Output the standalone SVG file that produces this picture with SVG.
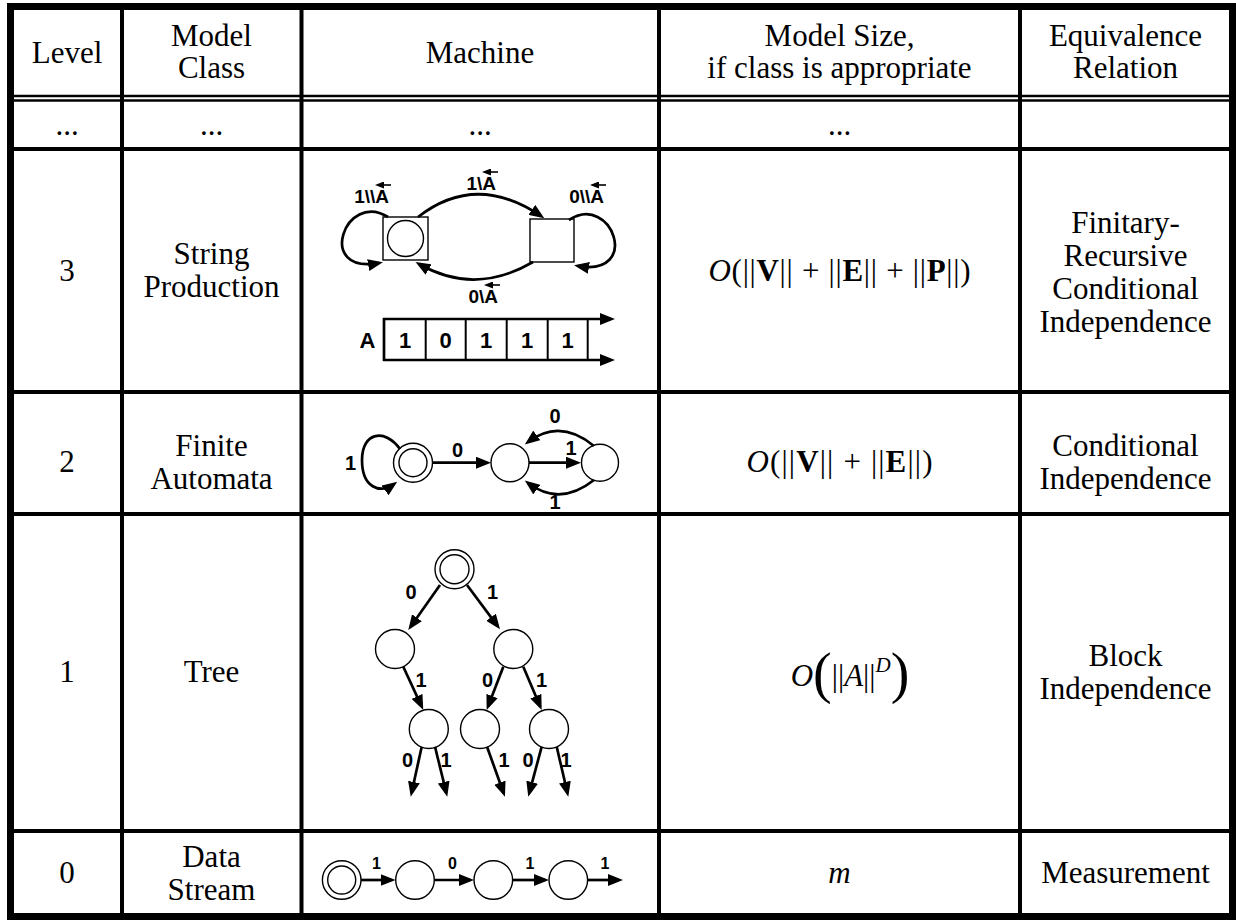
<svg xmlns="http://www.w3.org/2000/svg" width="1236" height="920" viewBox="0 0 1236 920">
<style>
.t{font-family:"Liberation Serif","Times New Roman",serif;font-size:31px;text-anchor:middle;fill:#000}
.lb{font-family:"Liberation Sans",Arial,sans-serif;font-weight:bold;font-size:20px;text-anchor:middle;fill:#000}
.la{font-family:"Liberation Sans",Arial,sans-serif;font-weight:bold;font-size:19px;text-anchor:end;fill:#000}
.ls{font-family:"Liberation Sans",Arial,sans-serif;font-weight:bold;font-size:16px;text-anchor:middle;fill:#000}
.tp{font-family:"Liberation Sans",Arial,sans-serif;font-weight:bold;font-size:22px;text-anchor:middle;fill:#000}
.g{stroke:#000;stroke-width:4}
.g2{stroke:#000;stroke-width:2.5}
.s{fill:#fff;stroke:#000;stroke-width:1.4}
.e{fill:none;stroke:#000;stroke-width:2.7;marker-end:url(#ah)}
.acc{fill:none;stroke:#000;stroke-width:1.6;marker-end:url(#sa)}
.tl{stroke:#000;stroke-width:2}
</style>
<defs>
<marker id="ah" markerUnits="userSpaceOnUse" markerWidth="15" markerHeight="12" viewBox="0 0 15 12" refX="11" refY="6" orient="auto"><path d="M0,0L15,6L0,12z" fill="#000"/></marker>
<marker id="sa" markerUnits="userSpaceOnUse" markerWidth="9" markerHeight="7" viewBox="0 0 9 7" refX="6" refY="3.5" orient="auto"><path d="M0,0L9,3.5L0,7z" fill="#000"/></marker>
</defs>
<rect width="1236" height="920" fill="#fff"/>

<g id="grid">
<rect x="10.5" y="6.5" width="1222" height="910" fill="none" stroke="#000" stroke-width="7"/>
<line class="g" x1="122" y1="10" x2="122" y2="913"/>
<line class="g" x1="301.5" y1="10" x2="301.5" y2="913"/>
<line class="g" x1="659" y1="10" x2="659" y2="913"/>
<line class="g" x1="1020" y1="10" x2="1020" y2="913"/>
<line class="g2" x1="14" y1="96" x2="1229" y2="96"/>
<line class="g2" x1="14" y1="100.5" x2="1229" y2="100.5"/>
<line class="g" x1="14" y1="149" x2="1229" y2="149"/>
<line class="g" x1="14" y1="392" x2="1229" y2="392"/>
<line class="g" x1="14" y1="514" x2="1229" y2="514"/>
<line class="g" x1="14" y1="831" x2="1229" y2="831"/>
</g>

<g id="header">
<text class="t" x="67" y="63">Level</text>
<text class="t" x="211.5" y="46">Model</text>
<text class="t" x="211.5" y="78">Class</text>
<text class="t" x="480" y="63">Machine</text>
<text class="t" x="839.5" y="46">Model Size,</text>
<text class="t" x="839.5" y="78">if class is appropriate</text>
<text class="t" x="1125.5" y="46">Equivalence</text>
<text class="t" x="1125.5" y="78">Relation</text>
</g>

<g id="row-dots">
<text class="t" x="67" y="135">...</text>
<text class="t" x="211.5" y="135">...</text>
<text class="t" x="480" y="135">...</text>
<text class="t" x="839.5" y="135">...</text>
</g>

<g id="row-3">
<text class="t" x="67" y="281">3</text>
<text class="t" x="211.5" y="263.5">String</text>
<text class="t" x="211.5" y="296.5">Production</text>
<text class="t" x="839.5" y="281" textLength="262" lengthAdjust="spacing"><tspan font-style="italic">O</tspan>(||<tspan font-weight="bold">V</tspan>|| + ||<tspan font-weight="bold">E</tspan>|| + ||<tspan font-weight="bold">P</tspan>||)</text>
<text class="t" x="1125.5" y="233">Finitary-</text>
<text class="t" x="1125.5" y="266">Recursive</text>
<text class="t" x="1125.5" y="299">Conditional</text>
<text class="t" x="1125.5" y="332">Independence</text>
</g>

<g id="row-2">
<text class="t" x="67" y="472">2</text>
<text class="t" x="211.5" y="455.5">Finite</text>
<text class="t" x="211.5" y="488.5">Automata</text>
<text class="t" x="839.5" y="472" textLength="186" lengthAdjust="spacing"><tspan font-style="italic">O</tspan>(||<tspan font-weight="bold">V</tspan>|| + ||<tspan font-weight="bold">E</tspan>||)</text>
<text class="t" x="1125.5" y="455.5">Conditional</text>
<text class="t" x="1125.5" y="488.5">Independence</text>
</g>

<g id="row-1">
<text class="t" x="67" y="682">1</text>
<text class="t" x="211.5" y="682">Tree</text>
<text class="t" x="850" y="686"><tspan font-style="italic">O</tspan><tspan font-size="56" dy="6">(</tspan><tspan dy="-6">||</tspan><tspan font-style="italic">A</tspan>||<tspan font-size="21" font-style="italic" dy="-14">D</tspan><tspan font-size="56" dy="20">)</tspan></text>
<text class="t" x="1125.5" y="665.5">Block</text>
<text class="t" x="1125.5" y="698.5">Independence</text>
</g>

<g id="row-0">
<text class="t" x="67" y="883">0</text>
<text class="t" x="211.5" y="866.5">Data</text>
<text class="t" x="211.5" y="899.5">Stream</text>
<text class="t" x="839.5" y="883" font-style="italic">m</text>
<text class="t" x="1125.5" y="883">Measurement</text>
</g>

<!-- Row 3 machine: string production -->
<g id="sp-state-start"><rect class="s" x="383" y="217" width="45" height="43"/><circle class="s" cx="405.5" cy="238.5" r="18"/></g>
<g id="sp-state-2"><rect class="s" x="530" y="219" width="44" height="43"/></g>
<g id="sp-tape">
<line x1="384" y1="318" x2="384" y2="361" stroke="#000" stroke-width="2.7"/>
<line class="tl" x1="425.7" y1="319" x2="425.7" y2="360"/>
<line class="tl" x1="465.7" y1="319" x2="465.7" y2="360"/>
<line class="tl" x1="506.7" y1="319" x2="506.7" y2="360"/>
<line class="tl" x1="547.7" y1="319" x2="547.7" y2="360"/>
<line class="tl" x1="587.7" y1="319" x2="587.7" y2="360"/>
<text class="tp" x="367.5" y="348">A</text>
<text class="tp" x="405" y="348">1</text>
<text class="tp" x="445.7" y="348">0</text>
<text class="tp" x="486.2" y="348">1</text>
<text class="tp" x="527.2" y="348">1</text>
<text class="tp" x="567.7" y="348">1</text>
</g>

<!-- Row 2 machine: finite automaton -->
<g id="fa-start"><circle class="s" cx="413" cy="462.7" r="19.5"/><circle class="s" cx="413" cy="462.7" r="14"/></g>
<g id="fa-mid"><circle class="s" cx="510" cy="462.7" r="19"/></g>
<g id="fa-right"><circle class="s" cx="600" cy="462.7" r="18.5"/></g>

<!-- Row 1 machine: tree -->
<g id="tr-root"><circle class="s" cx="454.5" cy="569.2" r="19.5"/><circle class="s" cx="454.5" cy="569.2" r="14.5"/></g>
<g id="tr-l1a"><circle class="s" cx="395" cy="649" r="19.5"/></g>
<g id="tr-l1b"><circle class="s" cx="513.3" cy="649" r="19.5"/></g>
<g id="tr-l2a"><circle class="s" cx="428.8" cy="729" r="19.5"/></g>
<g id="tr-l2b"><circle class="s" cx="480" cy="729" r="19.5"/></g>
<g id="tr-l2c"><circle class="s" cx="549" cy="729" r="19.5"/></g>

<!-- Row 0 machine: data stream -->
<g id="ds-0"><circle class="s" cx="341.7" cy="880" r="19.3"/><circle class="s" cx="341.7" cy="880" r="14"/></g>
<g id="ds-1"><circle class="s" cx="415" cy="880" r="19.3"/></g>
<g id="ds-2"><circle class="s" cx="493.3" cy="880" r="19.3"/></g>
<g id="ds-3"><circle class="s" cx="568.3" cy="880" r="19.3"/></g>

<g id="connectors">
<!-- row 3 -->
<path class="e" d="M418 217 Q476 172 541 216"/>
<path class="e" d="M533 262 Q475 296 419 264"/>
<path class="e" d="M388 217 C345 190 315 275 379 263"/>
<path class="e" d="M569 220 C612 192 642 277 578 266"/>
<path class="e" d="M383 319 L611 319"/>
<path class="e" d="M383 360 L611 360"/>
<text class="la" x="389" y="203">1\\A</text>
<path class="acc" d="M391 185 L378 185"/>
<text class="la" x="496" y="190">1\A</text>
<path class="acc" d="M498 172 L485 172"/>
<text class="la" x="604" y="203">0\\A</text>
<path class="acc" d="M606 185 L593 185"/>
<text class="la" x="498" y="303">0\A</text>
<path class="acc" d="M500 285 L487 285"/>
<!-- row 2 -->
<path class="e" d="M433 462.7 L487 462.7"/>
<path class="e" d="M529 462.7 L577 462.7"/>
<path class="e" d="M594 446 Q560 418 528 442"/>
<path class="e" d="M594 480 Q560 507 528 483"/>
<path class="e" d="M400 449 C385 428 362 432 362 460 C362 488 380 494 394 484"/>
<text class="lb" x="350.5" y="470">1</text>
<text class="lb" x="457.5" y="457">0</text>
<text class="lb" x="571" y="455">1</text>
<text class="lb" x="555" y="423">0</text>
<text class="lb" x="555" y="509">1</text>
<!-- row 1 -->
<path class="e" d="M440 585 L410.6 626.7"/>
<path class="e" d="M467 585 L497.6 626.1"/>
<path class="e" d="M403.3 666.7 L421.6 706.4"/>
<path class="e" d="M503.3 666.7 L488.1 706.3"/>
<path class="e" d="M523.3 666.7 L540.1 706.3"/>
<path class="e" d="M421.7 746.7 L411.6 792.8"/>
<path class="e" d="M435 746.7 L446.3 792.8"/>
<path class="e" d="M487 746.7 L503.6 793"/>
<path class="e" d="M541.7 746.7 L529.3 792.8"/>
<path class="e" d="M556.7 746.7 L567.4 792.8"/>
<text class="lb" x="411" y="599">0</text>
<text class="lb" x="492.5" y="599">1</text>
<text class="lb" x="421" y="687">1</text>
<text class="lb" x="487.5" y="687">0</text>
<text class="lb" x="541.5" y="687">1</text>
<text class="lb" x="407.5" y="767">0</text>
<text class="lb" x="446" y="767">1</text>
<text class="lb" x="504" y="767">1</text>
<text class="lb" x="528" y="767">0</text>
<text class="lb" x="566" y="767">1</text>
<!-- row 0 -->
<path class="e" d="M361 880 L391.5 880"/>
<path class="e" d="M434.5 880 L470 880"/>
<path class="e" d="M513 880 L545 880"/>
<path class="e" d="M587.5 880 L619 880"/>
<text class="ls" x="376.5" y="869">1</text>
<text class="ls" x="452.5" y="869">0</text>
<text class="ls" x="530" y="869">1</text>
<text class="ls" x="605" y="869">1</text>
</g>
</svg>
